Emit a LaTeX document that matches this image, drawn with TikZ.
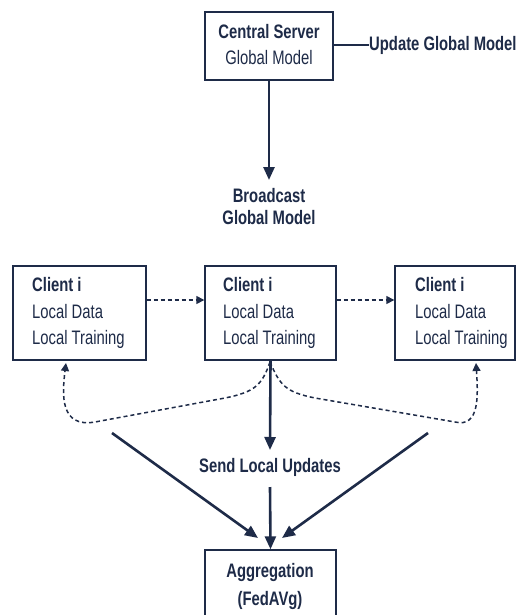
\documentclass[tikz,border=0pt]{standalone}
\usepackage{fontspec}
\setmainfont{Liberation Sans}[FakeStretch=0.76]
\usetikzlibrary{arrows.meta}
\definecolor{navy}{HTML}{1E2B48}
\begin{document}
\begin{tikzpicture}[x=1pt,y=-1pt,
  every node/.style={text=navy,font=\fontsize{19.5}{22}\selectfont},
  box/.style={draw=navy,line width=1.4pt,fill=white},
  lbl/.style={font=\fontsize{19.5}{22}\selectfont\bfseries},
  solid arrow/.style={draw=navy,line width=2.6pt,-{Triangle[length=13pt,width=11pt]}},
  dash arrow/.style={draw=navy,line width=1.5pt,dash pattern=on 4pt off 3pt,-{Triangle[length=8pt,width=8pt]}}]
\fill[white] (0,0) rectangle (516,615);
\useasboundingbox (0,0) rectangle (516,615);

% central server
\node[box,minimum width=128pt,minimum height=68pt] (srv) at (269,46) {};
\node[lbl] (srvA) at (269,32) {Central Server};
\node (srvB) at (269,58) {Global Model};
\node[lbl,anchor=west,inner sep=0pt] (upd) at (369,45) {Update Global Model};
\draw[navy,line width=2.4pt] (srv.east |- upd.west) -- (upd.west);

% broadcast
\node[lbl,align=center] (bc) at (269,207) {Broadcast\\Global Model};
\draw[solid arrow] (srv.south) -- (269,180);

% clients
\node[box,minimum width=133pt,minimum height=94pt] (c1) at (79.5,313) {};
\node[box,minimum width=131pt,minimum height=94pt] (c2) at (270.5,313) {};
\node[box,minimum width=120pt,minimum height=94pt] (c3) at (455,313) {};
\foreach \c/\x in {c1/32,c2/223,c3/415}{
  \node[lbl,anchor=west,inner sep=0pt] (\c a) at (\x,285) {Client i};
  \node[anchor=west,inner sep=0pt] (\c b) at (\x,312) {Local Data};
  \node[anchor=west,inner sep=0pt] (\c c) at (\x,339) {Local Training};
}
\draw[dash arrow] ([yshift=13pt]c1.east) -- ([yshift=13pt]c2.west);
\draw[dash arrow] ([yshift=13pt]c2.east) -- ([yshift=13pt]c3.west);

% dashed feedback curves
\coordinate (cb) at (270,362);
\draw[dash arrow] (cb) .. controls (262,385) and (255,392) .. (225,398)
  -- (95,422) .. controls (60,428) and (62,395) .. (66,363);
\draw[dash arrow] (cb) .. controls (280,385) and (285,392) .. (315,398)
  -- (455,422) .. controls (480,428) and (478,395) .. (476,363);

% local updates
\node (slu) at (270,467) {\bfseries Send Local Updates};
\node[box,minimum width=131pt,minimum height=70pt] (agg) at (270.5,585) {};
\node[lbl] (agA) at (270,572) {Aggregation};
\node[lbl] (agB) at (270,600) {(FedAVg)};
\draw[solid arrow] (c2.south) -- (270,450);
\draw[solid arrow] (270,487) -- (agg.north);
\coordinate (l0) at (112,433);
\coordinate (r0) at (428,433);
\draw[solid arrow] (l0) -- (258,538);
\draw[solid arrow] (r0) -- (282,538);
\end{tikzpicture}
\end{document}
